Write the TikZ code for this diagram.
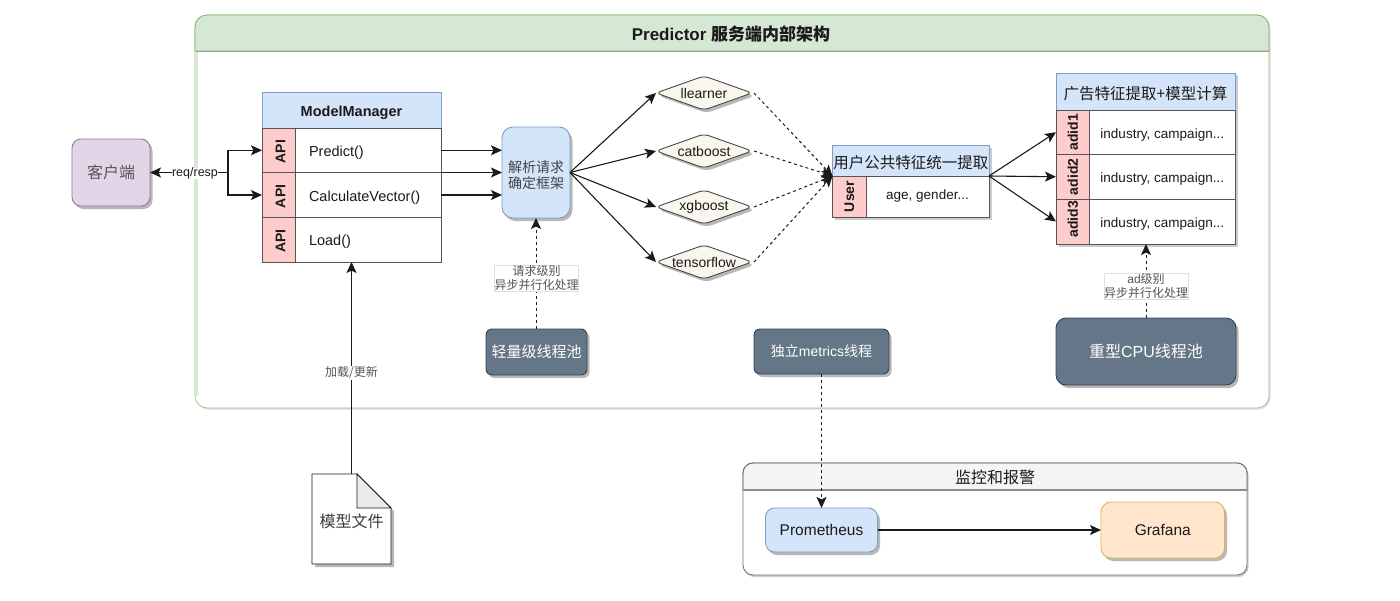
\documentclass[tikz,border=0pt]{standalone}
\usepackage{fontspec}
\setmainfont{Liberation Sans}
\newfontfamily\cjk{Noto Sans CJK SC}
\usetikzlibrary{arrows.meta,shapes.geometric,shadows}
\definecolor{greenfill}{HTML}{D5E8D4}
\definecolor{greenline}{HTML}{82B366}
\definecolor{bluefill}{HTML}{D4E4F9}
\definecolor{blueline}{HTML}{7E9CC4}
\definecolor{pinkfill}{HTML}{FFCCCC}
\definecolor{purplefill}{HTML}{E1D5E7}
\definecolor{purpleline}{HTML}{9673A6}
\definecolor{slatefill}{HTML}{647687}
\definecolor{slateline}{HTML}{314354}
\definecolor{orangefill}{HTML}{FFE6CC}
\definecolor{orangeline}{HTML}{D6B656}
\definecolor{beige}{HTML}{F9F7ED}
\definecolor{ink}{HTML}{1A1A1A}
\definecolor{cjkgray}{HTML}{555555}
\definecolor{edge}{HTML}{555555}
\newcommand{\fs}[1]{\fontsize{#1}{#1}\selectfont\setlength{\baselineskip}{1.2\baselineskip}}
% \bx{style}{name}{x1}{y1}{x2}{y2}{text}: a node spanning the given corners
\newcommand{\bx}[7]{%
  \pgfmathsetmacro{\cx}{(#3+#5)/2}\pgfmathsetmacro{\cy}{(#4+#6)/2}%
  \node[#1,minimum width={(#5-#3)*1pt},minimum height={(#6-#4)*1pt}] (#2) at (\cx,\cy) {#7};}
\tikzset{
  softshadow/.style={drop shadow={shadow xshift=2.5pt,shadow yshift=-3pt,fill=black,opacity=.28}},
  plain/.style={inner sep=0pt,outer sep=0pt,align=center,text=ink},
  rounded/.style={plain,rounded corners=9pt,softshadow},
  cell/.style={plain,draw=edge,line width=.9pt,fill=white,font=\fs{14}},
  lowtext/.style={text height=12pt,text depth=0pt},
  method/.style={cell,lowtext,font=\fs{14.5},text width=118pt,inner xsep=14pt,align=left},
  adrow/.style={cell,lowtext,font=\fs{13.5}},
  head/.style={cell,fill=bluefill,draw=blueline},
  cjkhead/.style={head,font=\fs{15.5}\cjk,text height=16pt,text depth=0pt},
  tag/.style={cell,fill=pinkfill,font=\fs{14}\bfseries},
  apitag/.style={tag,text height=26pt,text depth=0pt},
  pool/.style={plain,rounded corners=6pt,fill=slatefill,draw=slateline,line width=.9pt,text=white,softshadow},
  framework/.style={plain,diamond,aspect=3,fill=beige,draw=ink!80,line width=.9pt,rounded corners=5pt,softshadow},
  fwlabel/.style={font=\fs{14},text=ink},
  flow/.style={draw=ink,line width=1.1pt,-{Stealth[length=11pt,width=10pt,inset=2.5pt]}},
  async/.style={flow,line width=1pt,dash pattern=on 3pt off 3pt},
  note/.style={plain,fill=white,draw=black!12,line width=.5pt,font=\fs{12},text=cjkgray}
}
\begin{document}
\begin{tikzpicture}[x=1pt,y=-1pt]
\useasboundingbox (0,0) rectangle (1400,600);
\fill[white] (0,0) rectangle (1400,600);

% Service container: white body, green title band and a pale band down the left edge
\bx{plain,rounded corners=12pt,fill=white,draw=greenline!80,line width=.7pt,drop shadow={shadow xshift=1.5pt,shadow yshift=-1.5pt,fill=black,opacity=.13}}{outer}{195}{15}{1269}{408}{}
\draw[fill=greenfill,draw=greenline,line width=.8pt] (195,51) {[rounded corners=12pt] -- (195,15) -- (1269,15)} -- (1269,51) -- cycle;
\fill[greenfill] (195.4,51) rectangle (197.6,396);
\draw[black!38,line width=1.5pt] (195.5,51.5) -- (1268.5,51.5);
\bx{plain,font=\fs{17}\bfseries}{title}{500}{19}{962}{49}{Predictor {\cjk 服务端内部架构}}

% Client
\bx{rounded,fill=purplefill,draw=purpleline,line width=.9pt,text=cjkgray,font=\fs{16}\cjk}{client}{72}{139}{150}{206}{客户端}

% ModelManager table
\bx{head,font=\fs{14.5}\bfseries,lowtext}{mm}{262}{92}{441}{128}{ModelManager}
\bx{method}{predict}{295}{128}{441}{172.5}{Predict()}
\bx{method}{calc}{295}{172.5}{441}{217.5}{CalculateVector()}
\bx{method}{load}{295}{217.5}{441}{262}{Load()}
\bx{apitag}{api1}{262}{128}{295}{172.5}{\hspace*{4pt}\rotatebox{90}{API}}
\bx{apitag}{api2}{262}{172.5}{295}{217.5}{\hspace*{4pt}\rotatebox{90}{API}}
\bx{apitag}{api3}{262}{217.5}{295}{262}{\hspace*{4pt}\rotatebox{90}{API}}

% Request parser
\bx{rounded,rounded corners=11pt,fill=bluefill,draw=blueline,line width=.9pt,text=cjkgray!80!black,font=\fs{14}\cjk}{parse}{502}{127}{570}{218}{\rule{0pt}{17pt}解析请求\\确定框架}

% Framework branches
\bx{framework,label={[fwlabel]center:llearner}}{f1}{656}{76}{752}{110}{}
\bx{framework,label={[fwlabel]center:catboost}}{f2}{656}{134}{752}{168}{}
\bx{framework,label={[fwlabel]center:xgboost}}{f3}{656}{190}{752}{224}{}
\bx{framework,label={[fwlabel]center:tensorflow}}{f4}{656}{245}{752}{279}{}

% User feature table
\fill[black,opacity=.2] (835,148) rectangle (992,220);
\bx{cjkhead}{user}{832.5}{145}{989}{176}{用户公共特征统一提取}
\bx{cell,font=\fs{13.5}}{age}{866}{176}{989}{217}{age, gender...}
\bx{tag}{usertag}{832.5}{176}{866}{217}{\rotatebox{90}{User}}

% Ad feature table
\fill[black,opacity=.2] (1059,75) rectangle (1238,247);
\bx{cjkhead}{ad}{1056}{73}{1235}{110}{广告特征提取+模型计算}
\bx{adrow}{row1}{1089.5}{110}{1235}{154.5}{industry, campaign...}
\bx{adrow}{row2}{1089.5}{154.5}{1235}{199}{industry, campaign...}
\bx{adrow}{row3}{1089.5}{199}{1235}{244}{industry, campaign...}
\bx{tag}{adid1}{1056}{110}{1089.5}{154.5}{\rotatebox{90}{adid1}}
\bx{tag}{adid2}{1056}{154.5}{1089.5}{199}{\rotatebox{90}{adid2}}
\bx{tag,text height=32pt,text depth=0pt}{adid3}{1056}{199}{1089.5}{244}{\rotatebox{90}{adid3}}

% Thread pools
\bx{pool,font=\fs{15}\cjk}{light}{486}{329}{587}{375}{轻量级线程池}
\bx{pool,font=\fs{14}}{metrics}{754}{329}{889}{374}{{\cjk 独立}metrics{\cjk 线程}}
\bx{pool,rounded corners=10pt,font=\fs{16}}{heavy}{1056}{318}{1236}{385}{{\cjk 重型}CPU{\cjk 线程池}}

% Monitoring group
\bx{plain,rounded corners=10pt,fill=white,draw=black!55,line width=.9pt,drop shadow={shadow xshift=1.5pt,shadow yshift=-2pt,fill=black,opacity=.2}}{monitor}{743}{463}{1247}{575}{}
\fill[black!4] (743.5,490) {[rounded corners=10pt] -- (743.5,463.5) -- (1246.5,463.5)} -- (1246.5,490) -- cycle;
\draw[black!55,line width=.9pt] (743,490) {[rounded corners=10pt] -- (743,463) -- (1247,463)} -- (1247,490);
\draw[black!45,line width=1.5pt] (743,490) -- (1247,490);
\bx{plain,font=\fs{16}\cjk}{montitle}{900}{466}{1090}{488}{监控和报警}
\bx{rounded,fill=bluefill,draw=blueline,line width=.9pt,font=\fs{15.5}}{prom}{765.5}{508}{877.5}{552}{Prometheus}
\bx{rounded,rounded corners=10pt,fill=orangefill,draw=orangeline,line width=.9pt,font=\fs{15.5}}{graf}{1101}{502}{1224.5}{558}{Grafana}

% Model file
\fill[black,opacity=.28] (315,477) -- (360,477) -- (394,511) -- (394,567) -- (315,567) -- cycle;
\draw[fill=white,draw=ink,line width=.9pt] (312,474) -- (357,474) -- (391,508) -- (391,564) -- (312,564) -- cycle;
\draw[fill=black!8,draw=ink,line width=.9pt] (357,474) -- (357,508) -- (391,508) -- cycle;
\bx{plain,font=\fs{16}\cjk,text=cjkgray!70!black,text height=16pt,text depth=0pt}{file}{312}{474}{391}{564}{模型文件}

% Request entry
\coordinate (fork) at (228,172.5);
\draw[flow] (fork) -- (client.east);
\draw[flow] (fork) |- (api1.west);
\draw[flow] (fork) |- (api2.west);
\node[plain,fill=white,font=\fs{12.5}] (reqresp) at (195,173.5) {req/resp};

% Calls into the parser
\draw[flow] (predict.east) -- (predict.east -| parse.west);
\draw[flow] (calc.north east) -- (calc.north east -| parse.west);
\draw[flow] (calc.east) -- (calc.east -| parse.west);

% Dispatch to frameworks and on to feature extraction
\foreach \f in {f1,f2,f3,f4}{
  \draw[flow] (parse.east) -- (\f.west);
  \draw[async] ([xshift=2pt]\f.east) -- (user.south west);
}
\draw[flow] (user.south east) -- (adid1.west);
\draw[flow] (user.south east) -- (adid2.west);
\draw[flow] (user.south east) -- (adid3.west);

% Thread pool links
\draw[async] (light.north -| parse.south) -- (parse.south);
\draw[async] (heavy.north) -- (heavy.north |- row3.south);
\draw[async] (metrics.south) -- (prom.north);
\node[note] (lightnote) at (536.5,278) {\cjk 请求级别\\\cjk 异步并行化处理};
\node[note] (heavynote) at (1146,286) {ad{\cjk 级别}\\\cjk 异步并行化处理};

% Model loading and metrics export
\draw[flow] (file.north) -- (load.south -| file.north);
\node[note,draw=none,inner sep=1pt] (loadnote) at (351.5,373) {\cjk 加载/更新};
\draw[flow] (prom.east) -- (graf.west);
\end{tikzpicture}
\end{document}
